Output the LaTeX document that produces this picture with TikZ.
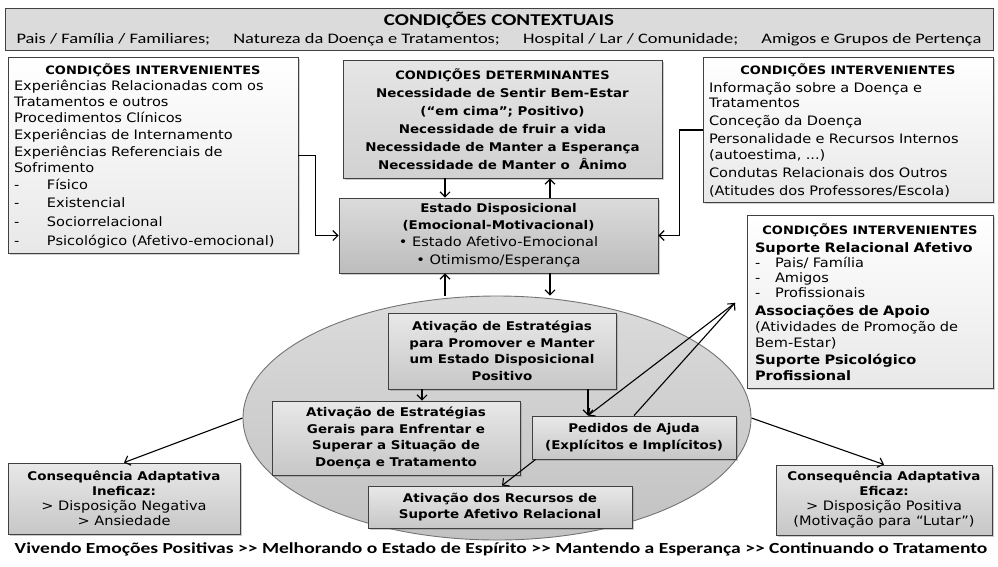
\documentclass[tikz,border=0pt]{standalone}
\usepackage{fontspec}
\setmainfont{DejaVu Sans}[FakeStretch=1.12]
\newfontfamily\calfont{Carlito}[FakeStretch=1.27]
\usetikzlibrary{positioning, shapes.geometric, shadows, arrows.meta}

\newcommand\regtxt{\mdseries\fontsize{13}{16}\selectfont}
\newcommand\boldtxt{\bfseries\fontsize{12}{16.5}\selectfont}
\newcommand\titletxt{\bfseries\fontsize{11.6}{16}\selectfont}
\newcommand\dashitem[2][33pt]{\makebox[#1][l]{-}#2}

\tikzset{
  frame/.style={draw=black!75, line width=0.9pt},
  ctxbox/.style={frame, fill=black!14, inner sep=2pt, align=center},
  intbox/.style={frame, top color=white, bottom color=black!9, inner sep=6pt, align=left,
    font=\regtxt, drop shadow={shadow xshift=1.5pt, shadow yshift=-1.5pt, opacity=.35}},
  graybox/.style={frame, top color=black!9, bottom color=black!22, inner sep=3pt, align=center,
    drop shadow={shadow xshift=2pt, shadow yshift=-2pt, opacity=.4}},
  link/.style={line width=1.1pt, -{Straight Barb[length=5pt,width=10pt]}},
}

\begin{document}
\begin{tikzpicture}[x=1pt, y=-1pt]
\useasboundingbox (0,0) rectangle (998,566);

% contextual conditions
\node[ctxbox, minimum width=988pt, minimum height=42pt,
  font=\calfont\fontsize{14.5}{18}\selectfont] (ctx) at (499,29)
  {{\fontsize{16.5}{18}\selectfont\textbf{CONDIÇÕES CONTEXTUAIS}}\\
   \makebox[965pt]{Pais / Família / Familiares;\hfill Natureza da Doença e Tratamentos;\hfill
   Hospital / Lar / Comunidade;\hfill Amigos e Grupos de Pertença}};

% intervening conditions, left
\node[intbox, minimum width=290pt, minimum height=195pt, text width=278pt] (intL) at (153,155.5) {%
  {\centering\titletxt CONDIÇÕES INTERVENIENTES\par}
  Experiências Relacionadas com os\\
  Tratamentos e outros\\
  Procedimentos Clínicos\\[1pt]
  Experiências de Internamento\\[1pt]
  Experiências Referenciais de\\
  Sofrimento\\[1pt]
  \dashitem{Físico}\\[2pt]
  \dashitem{Existencial}\\[3pt]
  \dashitem{Sociorrelacional}\\[3pt]
  \dashitem{Psicológico (Afetivo-emocional)}};

% determining conditions
\node[graybox, minimum width=319pt, minimum height=118pt, font=\boldtxt,
  top color=black!10, bottom color=black!18] (det) at (502.5,119) {%
  {\fontsize{11.6}{18}\selectfont CONDIÇÕES DETERMINANTES}\\[2pt]
  Necessidade de Sentir Bem-Estar\\[1.5pt]
  (“em cima”; Positivo)\\[1.5pt]
  Necessidade de fruir a vida\\[1.5pt]
  Necessidade de Manter a Esperança\\[1.5pt]
  Necessidade de Manter o \ Ânimo};

% intervening conditions, right
\node[intbox, minimum width=290pt, minimum height=144pt, text width=278pt] (intR) at (848,130) {%
  {\centering\titletxt CONDIÇÕES INTERVENIENTES\par}\vspace{2pt}
  Informação sobre a Doença e\\[-1pt]
  Tratamentos\\[2pt]
  Conceção da Doença\\[2pt]
  Personalidade e Recursos Internos\\
  (autoestima, ...)\\[2pt]
  Condutas Relacionais dos Outros\\[2pt]
  (Atitudes dos Professores/Escola)};

% dispositional state
\node[graybox, minimum width=319pt, minimum height=75pt, top color=black!14, bottom color=black!26,
  font=\boldtxt] (est) at (498.5,235.5) {%
  Estado Disposicional\\
  (Emocional-Motivacional)\\[1pt]
  {\regtxt • Estado Afetivo-Emocional}\\[1pt]
  {\regtxt • Otimismo/Esperança}};

% intervening conditions, support
\node[intbox, minimum width=246pt, minimum height=172pt, text width=230pt, inner sep=8pt] (sup) at (870,302) {%
  {\centering\titletxt CONDIÇÕES INTERVENIENTES\par}\vspace{2pt}
  \textbf{Suporte Relacional Afetivo}\\[-1pt]
  \dashitem[20pt]{Pais/ Família}\\[-1pt]
  \dashitem[20pt]{Amigos}\\[-1pt]
  \dashitem[20pt]{Profissionais}\\[2pt]
  \textbf{Associações de Apoio}\\
  (Atividades de Promoção de\\
  Bem-Estar)\\[1pt]
  \textbf{Suporte Psicológico}\\
  \textbf{Profissional}};

% strategies
\node[ellipse, draw=black!55, line width=0.9pt, top color=black!14, bottom color=black!24,
  minimum width=508pt, minimum height=244pt, inner sep=0pt] (ell) at (497,418) {};

\node[graybox, minimum width=228pt, minimum height=76pt, font=\boldtxt] (prom) at (502,351) {%
  Ativação de Estratégias\\
  para Promover e Manter\\
  um Estado Disposicional\\
  Positivo};
\node[graybox, minimum width=248pt, minimum height=74pt, font=\boldtxt] (ger) at (396,438) {%
  Ativação de Estratégias\\
  Gerais para Enfrentar e\\
  Superar a Situação de\\
  Doença e Tratamento};
\node[graybox, minimum width=204pt, minimum height=43pt, font=\boldtxt] (ped) at (634,437.5) {%
  Pedidos de Ajuda\\
  (Explícitos e Implícitos)};
\node[graybox, minimum width=264pt, minimum height=42pt, font=\boldtxt] (rec) at (500,507) {%
  Ativação dos Recursos de\\
  Suporte Afetivo Relacional};

% consequences
\node[graybox, minimum width=232pt, minimum height=71pt, font=\regtxt] (inef) at (124,498.5) {%
  {\boldtxt Consequência Adaptativa}\\[-1pt]
  {\boldtxt Ineficaz:}\\[-1pt]
  > Disposição Negativa\\[-1pt]
  > Ansiedade};
\node[graybox, minimum width=216pt, minimum height=70pt, font=\regtxt] (efic) at (884,500) {%
  {\boldtxt Consequência Adaptativa}\\[-1pt]
  {\boldtxt Eficaz:}\\[-1pt]
  > Disposição Positiva\\[-1pt]
  (Motivação para “Lutar”)};

\node[font=\calfont\bfseries\fontsize{15.4}{18}\selectfont] (motto) at (501,549)
  {Vivendo Emoções Positivas >> Melhorando o Estado de Espírito >> Mantendo a Esperança >> Continuando o Tratamento};

\coordinate (tip) at (735,303);

% connectors
\draw[link] (intL.east) -- ++(17,0) |- (est.west);
\draw[link] (intR.west) -- ++(-23,0) |- (est.east);
\draw[link] ([xshift=-57.5pt]det.south) -- ([xshift=-57.5pt]det.south |- est.north);
\draw[link] ([xshift=47.5pt]det.south |- est.north) -- ([xshift=47.5pt]det.south);
\draw[link] ([xshift=-53.5pt]est.south |- ell.north) -- ([xshift=-53.5pt]est.south);
\draw[link] ([xshift=51.5pt]est.south) -- ([xshift=51.5pt]est.south |- ell.north);
\draw[link] ([xshift=-80pt]prom.south) -- ([xshift=-80pt]prom.south |- ger.north);
\draw[link] ([xshift=86pt]prom.south) -- ([xshift=86pt]prom.south |- ped.north);
\draw[link] (ped.north) -- (tip);
\draw[link] (tip) -- ([xshift=-46pt]ped.north);
\draw[link] ([xshift=4pt]ped.south west) -- ([xshift=2pt]rec.north);
\draw[link] (ell.west) -- (inef.north);
\draw[link] (ell.east) -- (efic.north);

\end{tikzpicture}
\end{document}
